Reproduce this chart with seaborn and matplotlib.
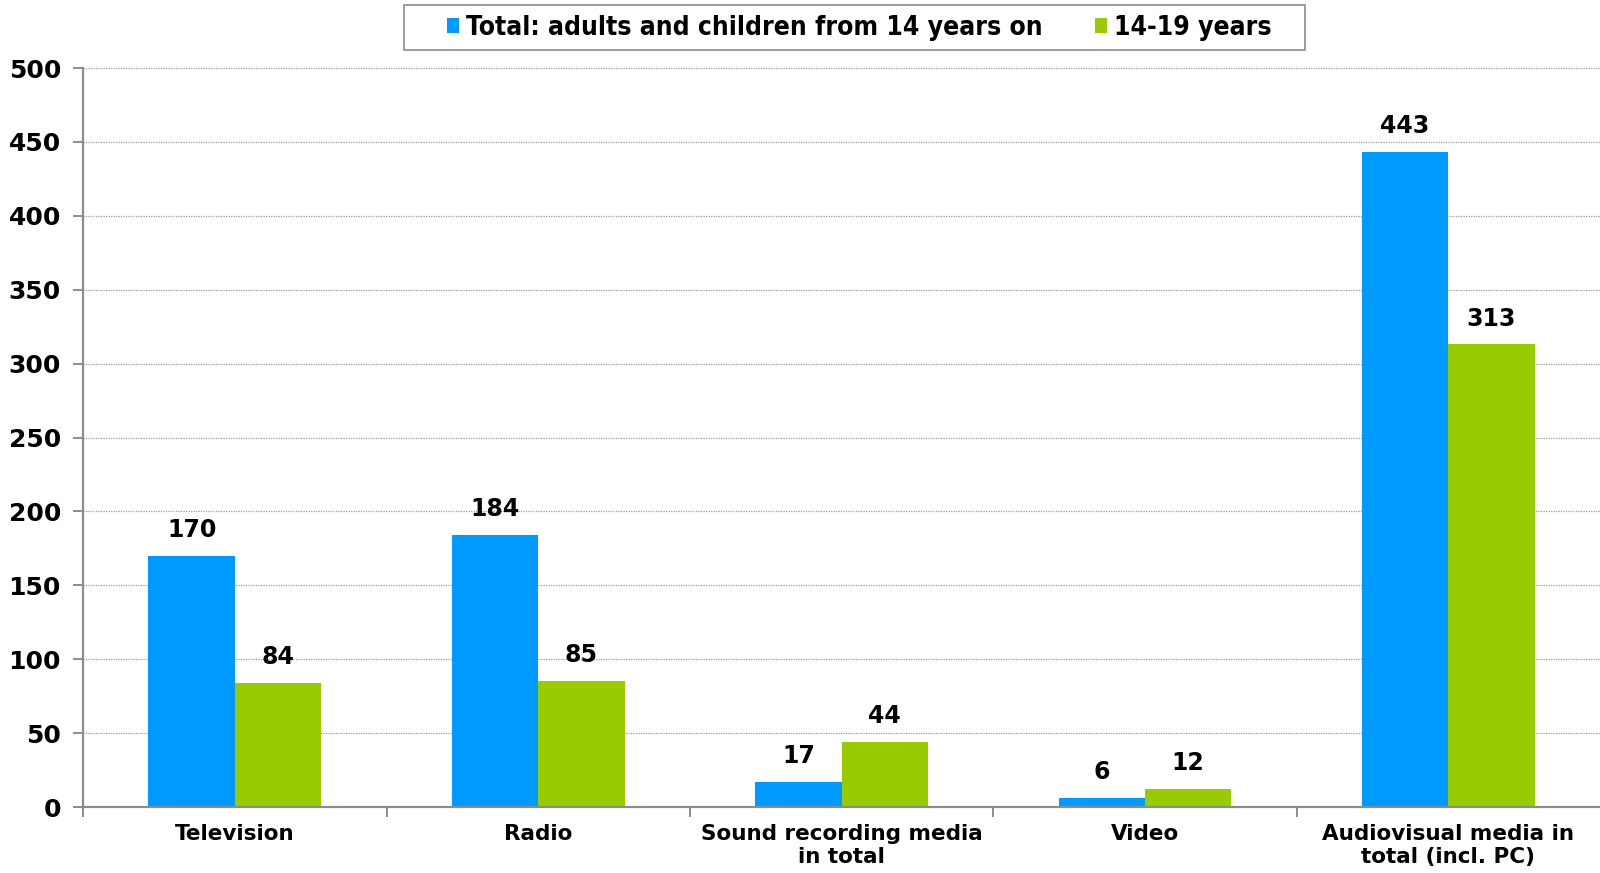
import matplotlib
matplotlib.use("Agg")
import matplotlib.pyplot as plt
from matplotlib.patches import Rectangle
from matplotlib.ticker import FixedLocator, NullFormatter
import seaborn as sns
import pandas as pd

categories = ["Television", "Radio", "Sound recording media\nin total", "Video",
              "Audiovisual media in\ntotal (incl. PC)"]
series_names = ["Total: adults and children from 14 years on", "14-19 years"]
total_values = [170, 184, 17, 6, 443]
teen_values = [84, 85, 44, 12, 313]
y_ticks = [0, 50, 100, 150, 200, 250, 300, 350, 400, 450, 500]

df = pd.DataFrame({
    "category": categories * 2,
    "group": [series_names[0]] * len(categories) + [series_names[1]] * len(categories),
    "value": total_values + teen_values,
})

sns.set_theme(style="white")
plt.rcParams["font.family"] = ["DejaVu Sans"]
plt.rcParams["font.weight"] = "bold"
plt.rcParams["text.color"] = "black"

fig = plt.figure(figsize=(16, 8.73), dpi=100)
ax = fig.add_axes([0.052, 0.0756, 0.948, 0.8464])

sns.barplot(data=df, x="category", y="value", hue="group", order=categories,
            hue_order=series_names, palette=["#0099FF", "#99CC00"],
            width=0.57, saturation=1, linewidth=0, ax=ax, legend=True)

ax.set_xlim(-0.5, len(categories) - 0.5)
ax.set_ylim(0, 500)
ax.set_yticks(y_ticks)
ax.set_xlabel("")
ax.set_ylabel("")

ax.grid(axis="y", color="#999999", linestyle=(0, (1, 1)), linewidth=0.9)
ax.set_axisbelow(True)
for side in ["top", "right"]:
    ax.spines[side].set_visible(False)
for side in ["left", "bottom"]:
    ax.spines[side].set_color("#8c8c8c")
    ax.spines[side].set_linewidth(1.6)

ax.tick_params(axis="y", which="major", length=7, width=1.4, color="#8c8c8c",
               left=True, pad=9, labelsize=18)
ax.tick_params(axis="x", which="major", length=0, pad=12, labelsize=15.5)
ax.xaxis.set_minor_locator(FixedLocator([i - 0.5 for i in range(len(categories))]))
ax.xaxis.set_minor_formatter(NullFormatter())
ax.tick_params(axis="x", which="minor", length=7, width=1.4, color="#8c8c8c", bottom=True)
for lbl in ax.get_xticklabels() + ax.get_yticklabels():
    lbl.set_fontweight("bold")
    lbl.set_color("black")

for container in ax.containers:
    ax.bar_label(container, fmt="%d", padding=10, fontsize=17, fontweight="bold",
                 color="black")

# legend entries without a frame; the box is drawn separately so it can be wider
handles, labels = ax.get_legend_handles_labels()
leg = ax.legend(handles, labels, ncol=2, loc="center",
                bbox_to_anchor=(0.537, 0.968), bbox_transform=fig.transFigure,
                frameon=False, handlelength=0.45, handleheight=0.45,
                handletextpad=0.25, columnspacing=2.0, borderpad=0, borderaxespad=0,
                prop={"family": "DejaVu Sans", "weight": "bold", "size": 19,
                      "stretch": "condensed"})
for t in leg.get_texts():
    t.set_color("black")

fig.patches.append(Rectangle((0.2525, 0.9427), 0.5631, 0.0516,
                             transform=fig.transFigure, fill=False,
                             edgecolor="#8c8c8c", linewidth=1.2, zorder=5))

fig.savefig("out.png", dpi=100, facecolor="white")
